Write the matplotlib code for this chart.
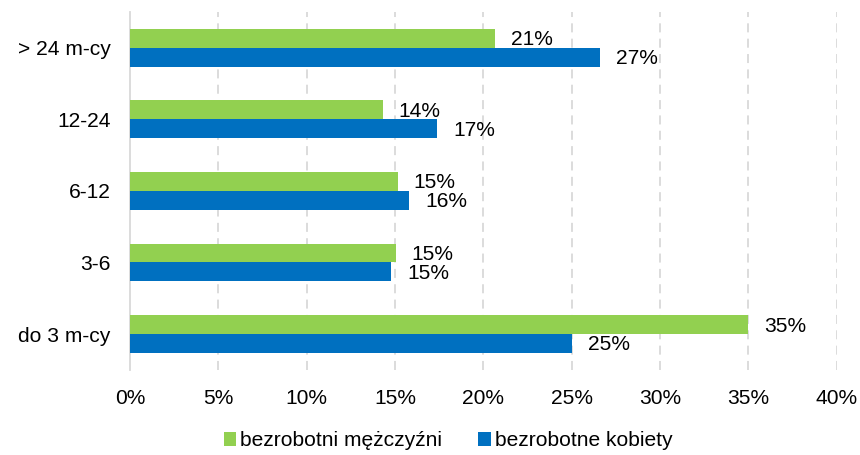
import matplotlib.pyplot as plt
import numpy as np

plt.rcParams['font.family'] = ['Liberation Sans', 'DejaVu Sans']

# Dane
kategorie = ['do 3 m-cy', '3-6', '6-12', '12-24', '> 24 m-cy']
mezczyzni = [35, 15, 15, 14, 21]
kobiety = [25, 15, 16, 17, 27]
# dlugosci slupkow (etykiety sa zaokraglone)
mezczyzni_dl = [35.0, 15.05, 15.15, 14.3, 20.65]
kobiety_dl = [25.0, 14.8, 15.8, 17.4, 26.6]
xticks = [0, 5, 10, 15, 20, 25, 30, 35, 40]

zielony = '#92D050'
niebieski = '#0070C0'
fs = 15.1

fig = plt.figure(figsize=(8.6, 4.55), dpi=100)
ax = fig.add_axes([0.151, 0.187, 0.822, 0.787])

y = np.arange(len(kategorie))
h = 0.265
b1 = ax.barh(y + h/2, mezczyzni_dl, height=h, color=zielony, label='bezrobotni mężczyźni', zorder=3)
b2 = ax.barh(y - h/2, kobiety_dl, height=h, color=niebieski, label='bezrobotne kobiety', zorder=3)

for bars, vals in [(b1, mezczyzni), (b2, kobiety)]:
    for r, v in zip(bars, vals):
        ax.annotate(f'{v}%', (r.get_width(), r.get_y() + r.get_height()/2),
                    xytext=(11.5, -1), textcoords='offset points',
                    va='center', ha='left', fontsize=fs, color='black')

ax.set_xlim(0, 40)
ax.set_ylim(-0.5, 4.5)
ax.set_xticks(xticks)
ax.set_xticklabels([f'{t}%' for t in xticks], fontsize=fs)
ax.set_yticks(y)
ax.set_yticklabels(kategorie, fontsize=fs)
ax.tick_params(axis='both', length=0)
ax.tick_params(axis='x', pad=13.5)
ax.tick_params(axis='y', pad=14)

for t in xticks[1:]:
    ax.axvline(t, color='#d9d9d9', lw=1.3, ls=(0, (5, 3.5)), zorder=1)

for s in ['top', 'right', 'bottom']:
    ax.spines[s].set_visible(False)
ax.spines['left'].set_color('#d9d9d9')
ax.spines['left'].set_linewidth(1.3)

fig.legend(handles=[b1, b2], loc='center', bbox_to_anchor=(0.521, 0.031), ncol=2,
           frameon=False, fontsize=fs, handlelength=0.6, handleheight=0.6,
           handletextpad=0.2, columnspacing=1.7)

fig.savefig('out.png', dpi=100)
